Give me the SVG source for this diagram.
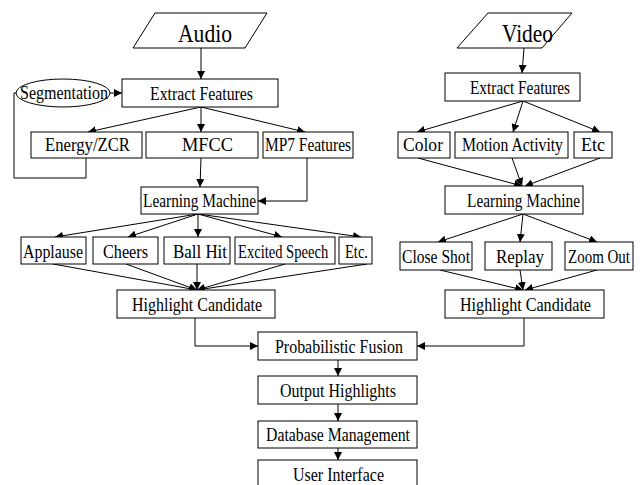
<svg xmlns="http://www.w3.org/2000/svg" width="642" height="485" viewBox="0 0 642 485">
<style>
.b{fill:#fff;stroke:#000;stroke-width:1}
.t{font-family:"Liberation Serif","Times New Roman",serif;font-size:18px;fill:#000;text-anchor:start}
.big{font-size:26px}
.c{fill:none;stroke:#000;stroke-width:1}
</style>
<defs>
<marker id="ah" viewBox="0 0 10 10" refX="10" refY="5" markerWidth="8" markerHeight="8" markerUnits="userSpaceOnUse" orient="auto">
<path d="M0,0 L10,5 L0,10 z" fill="#000"/>
</marker>
</defs>
<rect width="642" height="485" fill="#fff"/>
<g id="connectors">
<path class="c" d="M201,48 L201,79" marker-end="url(#ah)"/>
<path class="c" d="M110,93 L122,93" marker-end="url(#ah)"/>
<path class="c" d="M86,158 L86,178 L14,178 L14,93 L16,93"/>
<path class="c" d="M201,107 L88,132" marker-end="url(#ah)"/>
<path class="c" d="M201,107 L201,132" marker-end="url(#ah)"/>
<path class="c" d="M201,107 L305,132" marker-end="url(#ah)"/>
<path class="c" d="M201,158 L200,187" marker-end="url(#ah)"/>
<path class="c" d="M307,158 L307,201 L258,201" marker-end="url(#ah)"/>
<path class="c" d="M198,214 L55,237" marker-end="url(#ah)"/>
<path class="c" d="M198,214 L128,237" marker-end="url(#ah)"/>
<path class="c" d="M198,214 L198,237" marker-end="url(#ah)"/>
<path class="c" d="M198,214 L282,237" marker-end="url(#ah)"/>
<path class="c" d="M198,214 L361,237" marker-end="url(#ah)"/>
<path class="c" d="M53,264 L197,290" marker-end="url(#ah)"/>
<path class="c" d="M126,264 L197,290" marker-end="url(#ah)"/>
<path class="c" d="M197,264 L197,290" marker-end="url(#ah)"/>
<path class="c" d="M285,264 L197,290" marker-end="url(#ah)"/>
<path class="c" d="M367,264 L197,290" marker-end="url(#ah)"/>
<path class="c" d="M524,48 L522,73" marker-end="url(#ah)"/>
<path class="c" d="M523,101 L417,132" marker-end="url(#ah)"/>
<path class="c" d="M523,101 L513,132" marker-end="url(#ah)"/>
<path class="c" d="M523,101 L600,132" marker-end="url(#ah)"/>
<path class="c" d="M418,158 L522,186" marker-end="url(#ah)"/>
<path class="c" d="M512,158 L522,186" marker-end="url(#ah)"/>
<path class="c" d="M600,158 L525,186" marker-end="url(#ah)"/>
<path class="c" d="M523,214 L438,242" marker-end="url(#ah)"/>
<path class="c" d="M523,214 L520,242" marker-end="url(#ah)"/>
<path class="c" d="M523,214 L597,242" marker-end="url(#ah)"/>
<path class="c" d="M440,270 L523,290" marker-end="url(#ah)"/>
<path class="c" d="M520,270 L523,290" marker-end="url(#ah)"/>
<path class="c" d="M597,270 L525,290" marker-end="url(#ah)"/>
<path class="c" d="M195,318 L195,346 L258,346" marker-end="url(#ah)"/>
<path class="c" d="M524,318 L524,346 L417,346" marker-end="url(#ah)"/>
<path class="c" d="M338,360 L338,376" marker-end="url(#ah)"/>
<path class="c" d="M338,404 L338,421" marker-end="url(#ah)"/>
<path class="c" d="M338,448 L338,460" marker-end="url(#ah)"/>
</g>
<g id="audio"><polygon class="b" points="155,13 267,13 245,48 133,48"/><text class="t big" x="178" y="42" textLength="54" lengthAdjust="spacingAndGlyphs">Audio</text></g>
<g id="segmentation"><ellipse class="b" cx="63" cy="93" rx="47" ry="14"/><text class="t" x="20" y="99" textLength="88" lengthAdjust="spacingAndGlyphs">Segmentation</text></g>
<g id="a-extract"><rect class="b" x="122" y="79" width="156" height="28"/><text class="t" x="150" y="100" textLength="103" lengthAdjust="spacingAndGlyphs">Extract Features</text></g>
<g id="energy"><rect class="b" x="31" y="132" width="111" height="26"/><text class="t" x="45" y="151" textLength="85" lengthAdjust="spacingAndGlyphs">Energy/ZCR</text></g>
<g id="mfcc"><rect class="b" x="146" y="132" width="112" height="26"/><text class="t" x="182" y="151" textLength="51" lengthAdjust="spacingAndGlyphs">MFCC</text></g>
<g id="mp7"><rect class="b" x="263" y="132" width="90" height="26"/><text class="t" x="265" y="151" textLength="86" lengthAdjust="spacingAndGlyphs">MP7 Features</text></g>
<g id="a-learning"><rect class="b" x="141" y="187" width="117" height="27"/><text class="t" x="143" y="207" textLength="113" lengthAdjust="spacingAndGlyphs">Learning Machine</text></g>
<g id="applause"><rect class="b" x="21" y="237" width="65" height="27"/><text class="t" x="23" y="258" textLength="60" lengthAdjust="spacingAndGlyphs">Applause</text></g>
<g id="cheers"><rect class="b" x="93" y="237" width="65" height="27"/><text class="t" x="103" y="258" textLength="45" lengthAdjust="spacingAndGlyphs">Cheers</text></g>
<g id="ballhit"><rect class="b" x="164" y="237" width="66" height="27"/><text class="t" x="173" y="258" textLength="54" lengthAdjust="spacingAndGlyphs">Ball Hit</text></g>
<g id="excited"><rect class="b" x="235" y="237" width="100" height="27"/><text class="t" transform="translate(238,258) scale(0.81,1)" x="0" y="0">Excited Speech</text></g>
<g id="a-etc"><rect class="b" x="339" y="237" width="33" height="27"/><text class="t" x="345" y="258" textLength="23" lengthAdjust="spacingAndGlyphs">Etc.</text></g>
<g id="a-highlight"><rect class="b" x="117" y="290" width="158" height="28"/><text class="t" x="132" y="311" textLength="130" lengthAdjust="spacingAndGlyphs">Highlight Candidate</text></g>
<g id="video"><polygon class="b" points="488,13 572,13 542,48 457,48"/><text class="t big" x="502" y="42" textLength="51" lengthAdjust="spacingAndGlyphs">Video</text></g>
<g id="v-extract"><rect class="b" x="445" y="73" width="135" height="28"/><text class="t" x="470" y="94" textLength="100" lengthAdjust="spacingAndGlyphs">Extract Features</text></g>
<g id="color"><rect class="b" x="398" y="132" width="52" height="26"/><text class="t" x="403" y="151" textLength="40" lengthAdjust="spacingAndGlyphs">Color</text></g>
<g id="motion"><rect class="b" x="455" y="132" width="113" height="26"/><text class="t" x="462" y="151" textLength="101" lengthAdjust="spacingAndGlyphs">Motion Activity</text></g>
<g id="v-etc"><rect class="b" x="574" y="132" width="38" height="26"/><text class="t" x="581" y="151" textLength="24" lengthAdjust="spacingAndGlyphs">Etc</text></g>
<g id="v-learning"><rect class="b" x="445" y="186" width="138" height="28"/><text class="t" x="467" y="207" textLength="113" lengthAdjust="spacingAndGlyphs">Learning Machine</text></g>
<g id="closeshot"><rect class="b" x="400" y="242" width="72" height="28"/><text class="t" x="402" y="263" textLength="68" lengthAdjust="spacingAndGlyphs">Close Shot</text></g>
<g id="replay"><rect class="b" x="485" y="242" width="67" height="28"/><text class="t" x="496" y="263" textLength="48" lengthAdjust="spacingAndGlyphs">Replay</text></g>
<g id="zoomout"><rect class="b" x="565" y="242" width="68" height="28"/><text class="t" x="568" y="263" textLength="62" lengthAdjust="spacingAndGlyphs">Zoom Out</text></g>
<g id="v-highlight"><rect class="b" x="445" y="290" width="159" height="28"/><text class="t" x="460" y="311" textLength="131" lengthAdjust="spacingAndGlyphs">Highlight Candidate</text></g>
<g id="fusion"><rect class="b" x="258" y="332" width="159" height="28"/><text class="t" x="275" y="353" textLength="128" lengthAdjust="spacingAndGlyphs">Probabilistic Fusion</text></g>
<g id="output"><rect class="b" x="258" y="376" width="159" height="28"/><text class="t" x="280" y="397" textLength="116" lengthAdjust="spacingAndGlyphs">Output Highlights</text></g>
<g id="database"><rect class="b" x="258" y="421" width="159" height="27"/><text class="t" x="266" y="441" textLength="144" lengthAdjust="spacingAndGlyphs">Database Management</text></g>
<g id="ui"><rect class="b" x="258" y="460" width="159" height="27"/><text class="t" x="293" y="481" textLength="91" lengthAdjust="spacingAndGlyphs">User Interface</text></g>
</svg>
